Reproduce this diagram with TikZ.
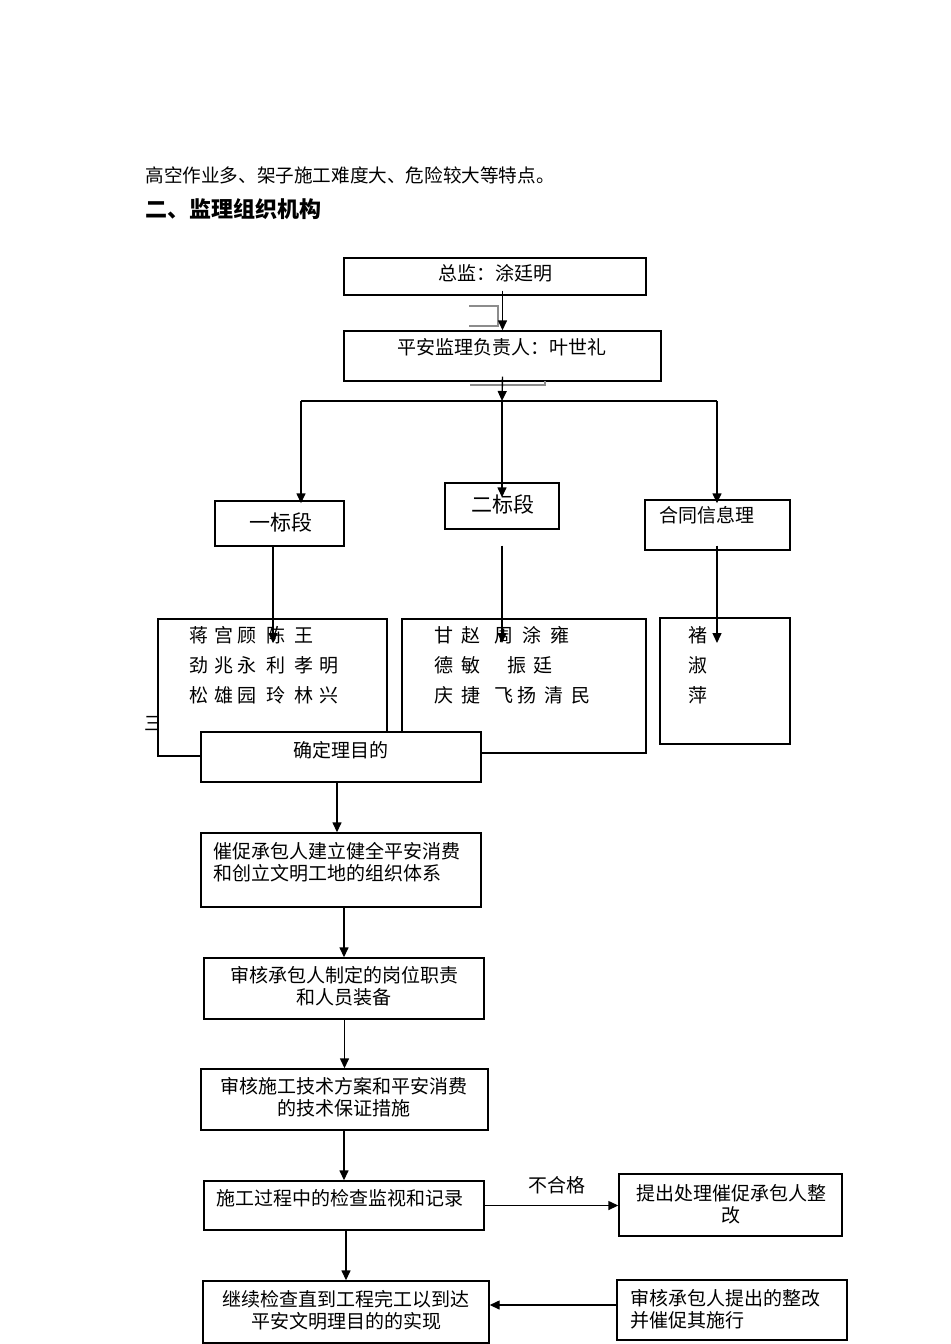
\documentclass[tikz,border=0pt]{standalone}
\usepackage{fontspec}
\setmainfont{Noto Sans CJK SC}
\usepackage{tikz}
\usetikzlibrary{arrows.meta, calc, positioning}
\def\px{0.5pt}
\newcommand{\cgap}[1]{\hspace{#1pt}}

\tikzset{
    box/.style 2 args={draw, fill=white, line width=0.7pt, minimum width=#1*\px, minimum height=#2*\px, inner sep=0pt},
    txt/.style={inner sep=0pt, font=\fontsize{9.5}{11}\selectfont, align=center},
    arr/.style={-{Triangle[length=5pt,width=4.5pt]}, line width=0.7pt},
    stray/.style={draw=black!45, line width=0.7pt}
}

\begin{document}
\begin{tikzpicture}[x=\px, y=-\px]
    \useasboundingbox (0,0) rectangle (950,1344);

    % Draw page text
    \node[txt, anchor=west, font=\fontsize{9.3}{11}\selectfont] (intro) at (145,175) {高空作业多、架子施工难度大、危险较大等特点。};
    \node[txt, anchor=west, font=\fontsize{11}{13}\bfseries\selectfont] (head) at (145,209) {二、监理组织机构};
    \node[txt, anchor=west] (san) at (144,723) {三};

    % Draw organisation boxes
    \node[box={302}{37}] (zj) at (495,276.5) {};
    \node[box={317}{50}] (fz) at (502.5,356) {};
    \node[box={129}{45}] (yb1) at (279.5,523.5) {};
    \node[box={114}{46}] (yb2) at (502,506) {};
    \node[box={145}{50}] (ht) at (717.5,525) {};
    \node[box={229}{137}] (mem1) at (272.5,687.5) {};
    \node[box={244}{134}] (mem2) at (524,686) {};
    \node[box={130}{126}] (mem3) at (725,681) {};

    % Draw flow boxes
    \node[box={280}{50}] (qd) at (341,757) {};
    \node[box={280}{74}] (cc) at (341,870) {};
    \node[box={280}{61}] (sh1) at (344,988.5) {};
    \node[box={287}{61}] (sh2) at (344.5,1099.5) {};
    \node[box={280}{49}] (sg) at (344,1205.5) {};
    \node[box={223}{62}] (tc) at (730.5,1205) {};
    \node[box={286}{62}] (jx) at (346,1312) {};
    \node[box={230}{60}] (sh3) at (732,1310) {};

    % Draw box labels
    \node[txt] (zjt) at (495,273) {总监：涂廷明};
    \node[txt] (fzt) at (502,347) {平安监理负责人：叶世礼};
    \node[txt, font=\fontsize{10.5}{12}\selectfont] (yb1t) at (281,522) {一标段};
    \node[txt, font=\fontsize{10.5}{12}\selectfont] (yb2t) at (503,504) {二标段};
    \node[txt, anchor=west] (htt) at (659,515) {合同信息理};

    \node[txt, anchor=west] (m1a) at (189,635) {蒋\cgap{2.9}宫\cgap{2.4}顾\cgap{4.9}陈\cgap{4.4}王};
    \node[txt, anchor=west] (m1b) at (189,665) {劲\cgap{2.9}兆\cgap{2.4}永\cgap{4.9}利\cgap{4.4}孝\cgap{2.9}明};
    \node[txt, anchor=west] (m1c) at (189,695) {松\cgap{2.9}雄\cgap{2.4}园\cgap{4.9}玲\cgap{4.4}林\cgap{2.9}兴};
    \node[txt, anchor=west] (m2a) at (434,635) {甘\cgap{3.9}赵\cgap{7.4}周\cgap{4.4}涂\cgap{4.4}雍};
    \node[txt, anchor=west] (m2b) at (434,665) {德\cgap{3.9}敏\cgap{13.4}振\cgap{3.9}廷};
    \node[txt, anchor=west] (m2c) at (434,695) {庆\cgap{3.9}捷\cgap{7.4}飞\cgap{1.9}扬\cgap{3.9}清\cgap{3.9}民};
    \node[txt, anchor=west] (m3a) at (688,635) {褚};
    \node[txt, anchor=west] (m3b) at (688,665) {淑};
    \node[txt, anchor=west] (m3c) at (688,695) {萍};

    \node[txt] (qdt) at (341,750) {确定理目的};
    \node[txt, anchor=west, align=left] (cct) at (213,862) {催促承包人建立健全平安消费\\和创立文明工地的组织体系};
    \node[txt] (sh1t) at (344,986) {审核承包人制定的岗位职责\\和人员装备};
    \node[txt] (sh2t) at (344,1097) {审核施工技术方案和平安消费\\的技术保证措施};
    \node[txt, anchor=west] (sgt) at (216,1198) {施工过程中的检查监视和记录};
    \node[txt] (tct) at (731,1204) {提出处理催促承包人整\\改};
    \node[txt] (jxt) at (346,1310.5) {继续检查直到工程完工以到达\\平安文明理目的的实现};
    \node[txt, anchor=west, align=left] (sh3t) at (630,1309) {审核承包人提出的整改\\并催促其施行};
    \node[txt] (bhg) at (557,1185) {不合格};

    % Stray marks
    \draw[stray] (469,306) -- (498,306) -- (498,326) -- (469,326);
    \draw[stray] (470,385) -- (545,385) -- (545,381);

    % Draw top connectors
    \draw[arr] ([yshift=2.5pt]zj.south -| fz.north) -- (fz.north);
    \coordinate (barL) at (301,401);
    \coordinate (barM) at (502,401);
    \coordinate (barR) at (717,401);
    \draw[arr] ([yshift=2.5pt]fz.south) -- (barM);
    \draw[line width=0.7pt] (barL) -- (barR);
    \draw[arr] (barL) -- ($(barL |- yb1.north)+(0,3)$);
    \draw[arr] (barM) -- ($(barM |- yb2.north)+(0,15)$);
    \draw[arr] (barR) -- ($(barR |- ht.north)+(0,4)$);

    % Draw member connectors
    \coordinate (d1) at (273,643);
    \coordinate (d2) at (502,643);
    \coordinate (d3) at (717,643);
    \draw[arr] (d1 |- yb1.south) -- (d1);
    \draw[arr] ($(d2 |- yb2.south)+(0,16)$) -- (d2);
    \draw[arr] ($(d3 |- ht.south)+(0,-5)$) -- (d3);

    % Draw flow connectors
    \draw[arr] ([xshift=-2pt]qd.south) -- ([xshift=-2pt]cc.north);
    \foreach \a/\b in {cc/sh1, sh1/sh2, sh2/sg, sg/jx}
        \draw[arr] (\a.south -| \b.north) -- (\b.north);
    \draw[arr] (sg.east) -- (sg.east -| tc.west);
    \draw[arr] ([yshift=2.5pt]sh3.west) -- ([yshift=2.5pt]sh3.west -| jx.east);

\end{tikzpicture}
\end{document}
